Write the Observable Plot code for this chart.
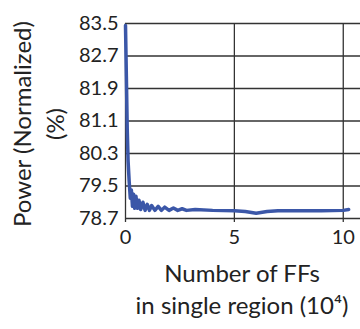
<!DOCTYPE html>
<html>
<head>
<meta charset="utf-8">
<script src="https://cdn.jsdelivr.net/npm/d3@7"></script>
<script src="https://cdn.jsdelivr.net/npm/@observablehq/plot@0.6"></script>
<style>
  html, body { margin: 0; padding: 0; background: #fff; }
  #chart svg { display: block; }
</style>
</head>
<body>
<div id="chart"></div>
<script>
// Data
const ffCount = [0, 0.04, 0.08, 0.12, 0.17, 0.22, 0.27, 0.32, 0.37, 0.42, 0.48, 0.55, 0.62, 0.7, 0.8, 0.9, 1.0, 1.1, 1.2, 1.35, 1.5, 1.65, 1.8, 2.0, 2.2, 2.4, 2.6, 2.8, 3.2, 4, 5, 5.5, 6.0, 6.5, 7, 8, 9, 10, 10.25];
const powerNorm = [83.45, 82.2, 80.9, 80.1, 79.6, 79.2, 79.4, 79.0, 79.3, 78.95, 79.25, 78.95, 79.15, 78.92, 79.1, 78.9, 79.05, 78.9, 79.02, 78.9, 79.0, 78.9, 78.98, 78.9, 78.96, 78.9, 78.94, 78.9, 78.92, 78.9, 78.89, 78.87, 78.83, 78.87, 78.89, 78.89, 78.89, 78.9, 78.92];
const yTicks = [78.7, 79.5, 80.3, 81.1, 81.9, 82.7, 83.5];
const xTicks = [0, 5, 10];
const yTitle1 = "Power (Normalized)";
const yTitle2 = "(%)";
const xTitle1 = "Number of FFs";
const xTitle2 = "in single region (10⁴)";

const data = ffCount.map((x, i) => ({x, y: powerNorm[i]}));
const font = "Lato, 'Open Sans', sans-serif";
const txt = "#222";

const chart = Plot.plot({
  width: 360,
  height: 329,
  marginLeft: 125,
  marginRight: 2,
  marginTop: 23,
  marginBottom: 111,
  style: {fontFamily: font, background: "#fff"},
  x: {domain: [0, 10.7]},
  y: {domain: [78.7, 83.5]},
  marks: [
    Plot.ruleY(yTicks, {stroke: "#333", strokeWidth: 1.3, insetRight: -2}),
    Plot.ruleX(xTicks.slice(1), {stroke: "#333", strokeWidth: 1.3, insetBottom: -4}),
    Plot.ruleX([0], {stroke: "#333", strokeWidth: 1.3, insetBottom: -4}),
    Plot.line(data, {x: "x", y: "y", stroke: "#3b57a8", strokeWidth: 3.5, strokeLinejoin: "round", curve: "linear"}),
    Plot.axisY({ticks: yTicks, tickFormat: d => d.toFixed(1), tickSize: 0, tickPadding: 7, fontSize: 20, label: null, color: txt}),
    Plot.axisX({ticks: xTicks, tickFormat: d => String(d), tickSize: 0, tickPadding: 11, fontSize: 20, label: null, color: txt}),
    Plot.text([yTitle1], {frameAnchor: "left", textAnchor: "middle", lineAnchor: "middle", rotate: -90, dx: -102, dy: 3, fontSize: 24, fill: txt}),
    Plot.text([yTitle2], {frameAnchor: "left", textAnchor: "middle", lineAnchor: "middle", rotate: -90, dx: -69, dy: 3, fontSize: 24, fill: txt}),
    Plot.text([xTitle1], {frameAnchor: "bottom", textAnchor: "middle", lineAnchor: "middle", dy: 56, fontSize: 24, fill: txt}),
    Plot.text([xTitle2], {frameAnchor: "bottom", textAnchor: "middle", lineAnchor: "middle", dy: 88, fontSize: 24, fill: txt})
  ]
});
document.getElementById("chart").appendChild(chart);
</script>
</body>
</html>
